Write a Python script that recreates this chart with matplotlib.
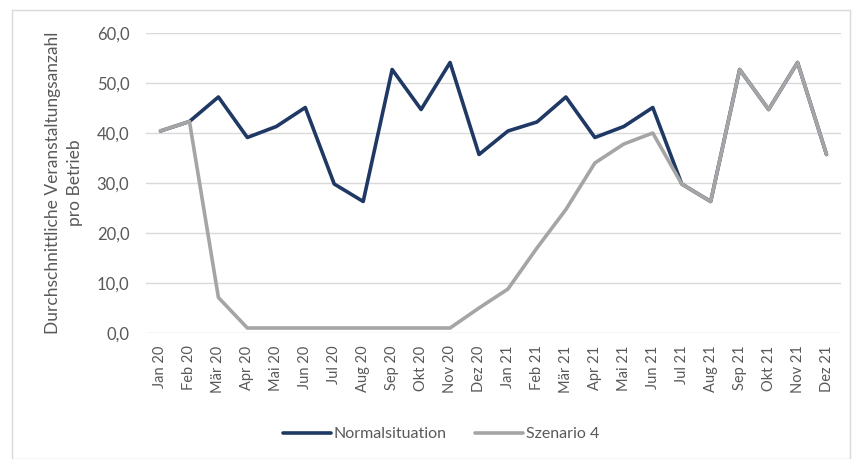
import matplotlib
matplotlib.use("Agg")
import matplotlib.pyplot as plt
from matplotlib.patches import Rectangle

plt.rcParams['font.family'] = ['Lato', 'DejaVu Sans']

months = ["Jan 20", "Feb 20", "Mär 20", "Apr 20", "Mai 20", "Jun 20",
          "Jul 20", "Aug 20", "Sep 20", "Okt 20", "Nov 20", "Dez 20",
          "Jan 21", "Feb 21", "Mär 21", "Apr 21", "Mai 21", "Jun 21",
          "Jul 21", "Aug 21", "Sep 21", "Okt 21", "Nov 21", "Dez 21"]

normal = [40.4, 42.3, 47.2, 39.1, 41.3, 45.1, 29.8, 26.3, 52.7, 44.7, 54.1, 35.7,
          40.4, 42.2, 47.2, 39.1, 41.3, 45.1, 29.8, 26.3, 52.7, 44.7, 54.1, 35.7]

szenario4 = [40.4, 42.3, 7.1, 1.0, 1.0, 1.0, 1.0, 1.0, 1.0, 1.0, 1.0, 5.0,
             8.8, 17.0, 24.7, 34.0, 37.8, 40.0, 29.8, 26.3, 52.7, 44.7, 54.1, 35.7]

yticks = [0, 10, 20, 30, 40, 50, 60]

navy = "#1F3864"
grey = "#A5A5A5"
text_col = "#595959"

fig = plt.figure(figsize=(8.52, 4.59), dpi=100)
fig.patches.append(Rectangle((12 / 852, 0), 838 / 852, 449 / 459,
                             transform=fig.transFigure, fill=False,
                             edgecolor="#D9D9D9", linewidth=1))

ax = fig.add_axes([146 / 852, 1 - 333 / 459, 695 / 852, 300 / 459])

x = list(range(len(months)))
ax.plot(x, normal, color=navy, linewidth=2.6, label="Normalsituation",
        solid_joinstyle="round", solid_capstyle="round", zorder=3)
ax.plot(x, szenario4, color=grey, linewidth=2.6, label="Szenario 4",
        solid_joinstyle="round", solid_capstyle="round", zorder=4)

ax.set_xlim(-0.5, len(months) - 0.5)
ax.set_ylim(0, 60)
ax.set_yticks(yticks)
ax.set_yticklabels([f"{v:.1f}".replace(".", ",") for v in yticks],
                   fontsize=12, color=text_col)
ax.set_xticks(x)
ax.set_xticklabels(months, rotation=90, fontsize=10.5, color=text_col)
ax.tick_params(axis="both", length=0)
ax.tick_params(axis="y", pad=12)
ax.tick_params(axis="x", pad=9)

ax.grid(axis="y", color="#D9D9D9", linewidth=1)
ax.set_axisbelow(True)
for s in ax.spines.values():
    s.set_visible(False)

ax.set_ylabel("Durchschnittliche Veranstaltungsanzahl\npro Betrieb",
              fontsize=12.5, color=text_col, labelpad=10, linespacing=1.45)

fig.legend(loc="center", bbox_to_anchor=(441 / 852, 1 - 434 / 459),
           ncol=2, frameon=False, fontsize=11.5, handlelength=3.0,
           handletextpad=0.15, columnspacing=1.8,
           labelcolor=text_col)

fig.savefig("out.png", dpi=100)
